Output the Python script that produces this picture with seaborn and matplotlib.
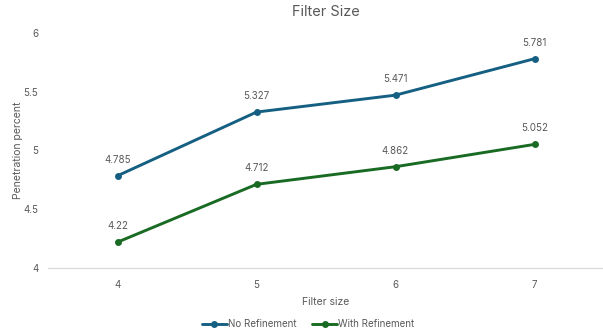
import matplotlib
matplotlib.use("Agg")
import matplotlib.pyplot as plt
import seaborn as sns
import pandas as pd

filter_sizes = ["4", "5", "6", "7"]
no_refinement = [4.785, 5.327, 5.471, 5.781]
with_refinement = [4.22, 4.712, 4.862, 5.052]
series_names = ["No Refinement", "With Refinement"]
y_ticks = [4, 4.5, 5, 5.5, 6]
y_tick_labels = ["4", "4.5", "5", "5.5", "6"]

sns.set_style("white")
plt.rcParams["font.family"] = ["Inter", "DejaVu Sans"]

df = pd.DataFrame({
    "Filter size": filter_sizes * 2,
    "value": no_refinement + with_refinement,
    "series": [series_names[0]] * 4 + [series_names[1]] * 4,
})

grey = "#595959"
palette = {series_names[0]: "#156082", series_names[1]: "#196b24"}

fig = plt.figure(figsize=(6.03, 3.33), dpi=100)
ax = fig.add_axes([48 / 603, 1 - 268 / 333, 556 / 603, 235 / 333])

sns.lineplot(data=df, x="Filter size", y="value", hue="series", palette=palette,
             marker="o", markersize=5, markeredgewidth=0, linewidth=2.1,
             ax=ax, legend=True, sort=False)

ax.set_xlim(-0.5, 3.5)
ax.set_ylim(4, 6)
ax.set_yticks(y_ticks)
ax.set_yticklabels(y_tick_labels)
ax.tick_params(axis="both", length=0, labelsize=7, colors=grey)
ax.tick_params(axis="x", pad=9)
ax.tick_params(axis="y", pad=7)

for s in ["top", "right", "left"]:
    ax.spines[s].set_visible(False)
ax.spines["bottom"].set_color("#d9d9d9")
ax.spines["bottom"].set_linewidth(0.9)

ax.set_xlabel("Filter size", fontsize=7.5, color=grey, labelpad=5)
ax.set_ylabel("Penetration percent", fontsize=7.5, color=grey)
ax.yaxis.set_label_coords(-25 / 556, 0.5)
ax.set_title("Filter Size", fontsize=10.5, color=grey, pad=12)

for vals in (no_refinement, with_refinement):
    for i, v in enumerate(vals):
        ax.annotate(f"{v:g}", (i, v), xytext=(0, 8), textcoords="offset points",
                    ha="center", va="bottom", fontsize=7, color=grey)

leg = ax.legend(loc="upper center", bbox_to_anchor=((308 - 48) / 556, -0.18), ncol=2,
                frameon=False, fontsize=7, labelcolor=grey, handlelength=2.6,
                handletextpad=0.1, columnspacing=1.6)
fig.savefig("out.png", dpi=100)
